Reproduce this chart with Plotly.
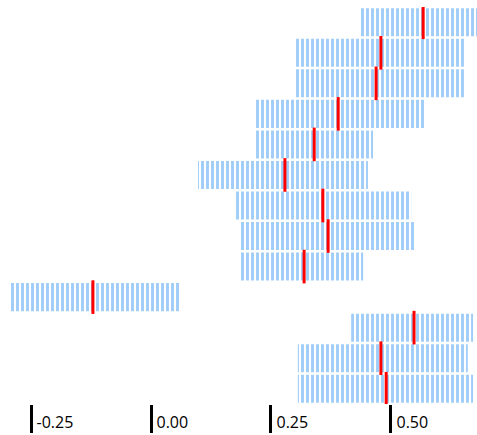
import plotly.graph_objects as go

rows = [str(i) for i in range(1, 14)]
low = [0.4375, 0.298, 0.298, 0.217, 0.217, 0.098, 0.177, 0.1875, 0.1875, -0.292, 0.417, 0.306, 0.306]
mid = [0.567, 0.479, 0.469, 0.390, 0.340, 0.279, 0.358, 0.369, 0.319, -0.121, 0.548, 0.479, 0.490]
high = [0.692, 0.652, 0.652, 0.571, 0.4625, 0.452, 0.542, 0.552, 0.442, 0.0625, 0.671, 0.660, 0.671]
tick_vals = [-0.25, 0.0, 0.25, 0.5]
tick_text = ["-0.25", "0.00", "0.25", "0.50"]

fig = go.Figure()
fig.add_trace(go.Bar(
    y=rows,
    x=[h - l for h, l in zip(high, low)],
    base=low,
    orientation="h",
    width=0.918,
    marker=dict(
        color="#9fcdf8",
        line=dict(width=0),
        pattern=dict(shape="|", size=5, solidity=0.58, fillmode="replace"),
    ),
    hoverinfo="skip",
    showlegend=False,
))
fig.add_trace(go.Scatter(
    y=rows,
    x=mid,
    mode="markers",
    marker=dict(symbol="line-ns-open", size=24, color="#ff0000",
                line=dict(width=3, color="#ff0000")),
    hoverinfo="skip",
    showlegend=False,
))

fig.update_layout(
    width=477, height=435,
    margin=dict(l=0, r=0, t=7, b=31, pad=0),
    paper_bgcolor="white",
    plot_bgcolor="white",
    xaxis=dict(
        range=[-0.3146, 0.6792],
        automargin=False,
        showgrid=False, zeroline=False, showline=False,
        tickmode="array", tickvals=tick_vals, ticktext=tick_text,
        ticks="outside", ticklen=28, tickwidth=3, tickcolor="black",
        ticklabelposition="outside right",
        ticklabelshift=4, ticklabelstandoff=4,
        tickfont=dict(family="Open Sans", size=16, color="black"),
    ),
    yaxis=dict(
        categoryorder="array", categoryarray=rows,
        range=[12.5, -0.5],
        automargin=False,
        showgrid=False, zeroline=False, showline=False,
        showticklabels=False, ticks="",
    ),
)

fig.write_html(
    "out.html",
    config={"displayModeBar": False},
    post_script="document.body.style.margin='0';document.body.style.overflow='hidden';",
)
